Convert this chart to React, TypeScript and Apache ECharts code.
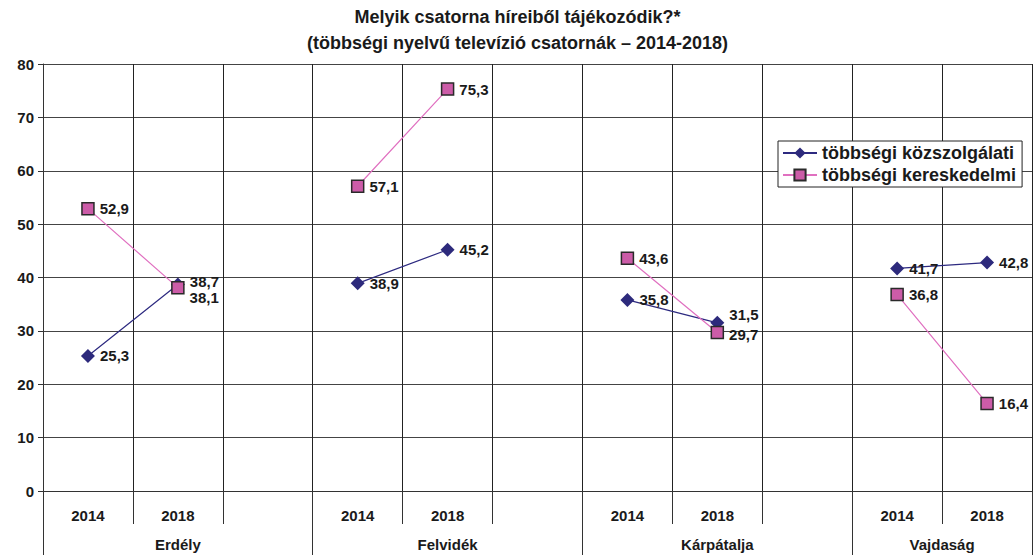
import React, { useEffect, useRef } from "react";
import * as echarts from "echarts";

const slots = ["2014", "2018", "", "2014", "2018", "", "2014", "2018", "", "2014", "2018"];
const groupNames = ["Erdély", "Felvidék", "Kárpátalja", "Vajdaság"];
const groupSpans = [3, 3, 3, 2];
const kozszolgalati = [25.3, 38.7, null, 38.9, 45.2, null, 35.8, 31.5, null, 41.7, 42.8];
const kereskedelmi = [52.9, 38.1, null, 57.1, 75.3, null, 43.6, 29.7, null, 36.8, 16.4];
const seriesNames = ["többségi közszolgálati", "többségi kereskedelmi"];
const titleLines = ["Melyik csatorna híreiből tájékozódik?*", "(többségi nyelvű televízió csatornák – 2014-2018)"];
const yMin = 0;
const yMax = 80;
const yStep = 10;

const FONT = "'Liberation Sans', Arial, sans-serif";

export default function App() {
  const ref = useRef<HTMLDivElement>(null);
  useEffect(() => {
    if (!ref.current) return;
    const chart = echarts.init(ref.current, null, { renderer: "svg" });

    const bounds: number[] = [0];
    groupSpans.forEach((s) => bounds.push(bounds[bounds.length - 1] + s));
    const centers = groupSpans.map((s, i) => bounds[i] + s / 2);

    const fmt = (p: any) => {
      const v = Array.isArray(p.value) ? p.value[1] : p.value;
      return v == null ? "" : Number(v).toFixed(1).replace(".", ",");
    };

    const labelBase = {
      show: true,
      position: "right",
      distance: 5,
      formatter: fmt,
      color: "#1a1a1a",
      fontWeight: "bold",
      fontSize: 15,
      fontFamily: FONT,
    };

    // label nudges for crowded points (series index -> data index -> offset)
    const nudges: Record<string, [number, number]>[] = [
      { 1: [0, -3], 7: [0, -8] },
      { 1: [0, 10], 7: [0, 2] },
    ];
    const withNudges = (arr: (number | null)[], si: number) =>
      arr.map((v, i) => (nudges[si][i] ? { value: v, label: { offset: nudges[si][i] } } : v));

    chart.setOption({
      animation: false,
      backgroundColor: "#ffffff",
      textStyle: { fontFamily: FONT },
      title: {
        text: titleLines.join("\n"),
        left: "center",
        top: 0,
        padding: [4, 5],
        textStyle: {
          fontFamily: FONT,
          fontWeight: "bold",
          fontSize: 18,
          lineHeight: 26,
          color: "#1a1a1a",
        },
      },
      legend: {
        orient: "vertical",
        left: 778,
        top: 141,
        padding: [3, 6, 3, 4],
        itemGap: 4,
        itemWidth: 34,
        itemHeight: 14,
        borderColor: "#222",
        borderWidth: 1,
        backgroundColor: "#fff",
        textStyle: { fontFamily: FONT, fontWeight: "bold", fontSize: 18, color: "#1a1a1a" },
        data: seriesNames,
      },
      grid: { left: 43, right: 3, top: 64, bottom: 64, containLabel: false },
      xAxis: [
        {
          type: "category",
          data: slots,
          boundaryGap: true,
          position: "bottom",
          axisLine: { show: true, lineStyle: { color: "#333", width: 1 } },
          axisTick: { show: true, interval: 0, length: 33, lineStyle: { color: "#333" } },
          axisLabel: {
            interval: 0,
            margin: 17,
            fontFamily: FONT,
            fontWeight: "bold",
            fontSize: 15,
            color: "#1a1a1a",
          },
          splitLine: { show: true, interval: 0, lineStyle: { color: "#222", width: 1 } },
        },
        {
          type: "value",
          min: 0,
          max: slots.length,
          position: "bottom",
          axisLine: { show: false },
          axisTick: { show: true, length: 64, customValues: bounds, lineStyle: { color: "#333" } },
          axisLabel: {
            show: true,
            margin: 46,
            customValues: centers,
            formatter: (v: number) => {
              const i = centers.findIndex((c) => Math.abs(c - v) < 1e-6);
              return i >= 0 ? groupNames[i] : "";
            },
            fontFamily: FONT,
            fontWeight: "bold",
            fontSize: 15,
            color: "#1a1a1a",
          },
          splitLine: { show: false },
        },
      ],
      yAxis: {
        type: "value",
        min: yMin,
        max: yMax,
        interval: yStep,
        axisLine: { show: true, lineStyle: { color: "#333" } },
        axisTick: { show: true, length: 5, lineStyle: { color: "#333" } },
        axisLabel: {
          margin: 9,
          fontFamily: FONT,
          fontWeight: "bold",
          fontSize: 15,
          color: "#1a1a1a",
        },
        splitLine: { show: true, lineStyle: { color: "#444", width: 1 } },
      },
      series: [
        {
          name: seriesNames[0],
          type: "line",
          xAxisIndex: 0,
          data: withNudges(kozszolgalati, 0),
          connectNulls: false,
          symbol: "diamond",
          symbolSize: 14,
          itemStyle: { color: "#2d2a7c" },
          lineStyle: { color: "#2d2a80", width: 1.2 },
          label: labelBase,
          z: 3,
        },
        {
          name: seriesNames[1],
          type: "line",
          xAxisIndex: 0,
          data: withNudges(kereskedelmi, 1),
          connectNulls: false,
          symbol: "rect",
          symbolSize: 12,
          itemStyle: { color: "#cc5ca8", borderColor: "#2a2a2a", borderWidth: 1.5 },
          lineStyle: { color: "#e070c0", width: 1.2 },
          label: labelBase,
          z: 4,
        },
      ],
    });
    return () => chart.dispose();
  }, []);
  return (
    <div
      ref={ref}
      style={{ position: "fixed", left: 0, top: 0, width: 1035, height: 555, background: "#fff" }}
    />
  );
}
